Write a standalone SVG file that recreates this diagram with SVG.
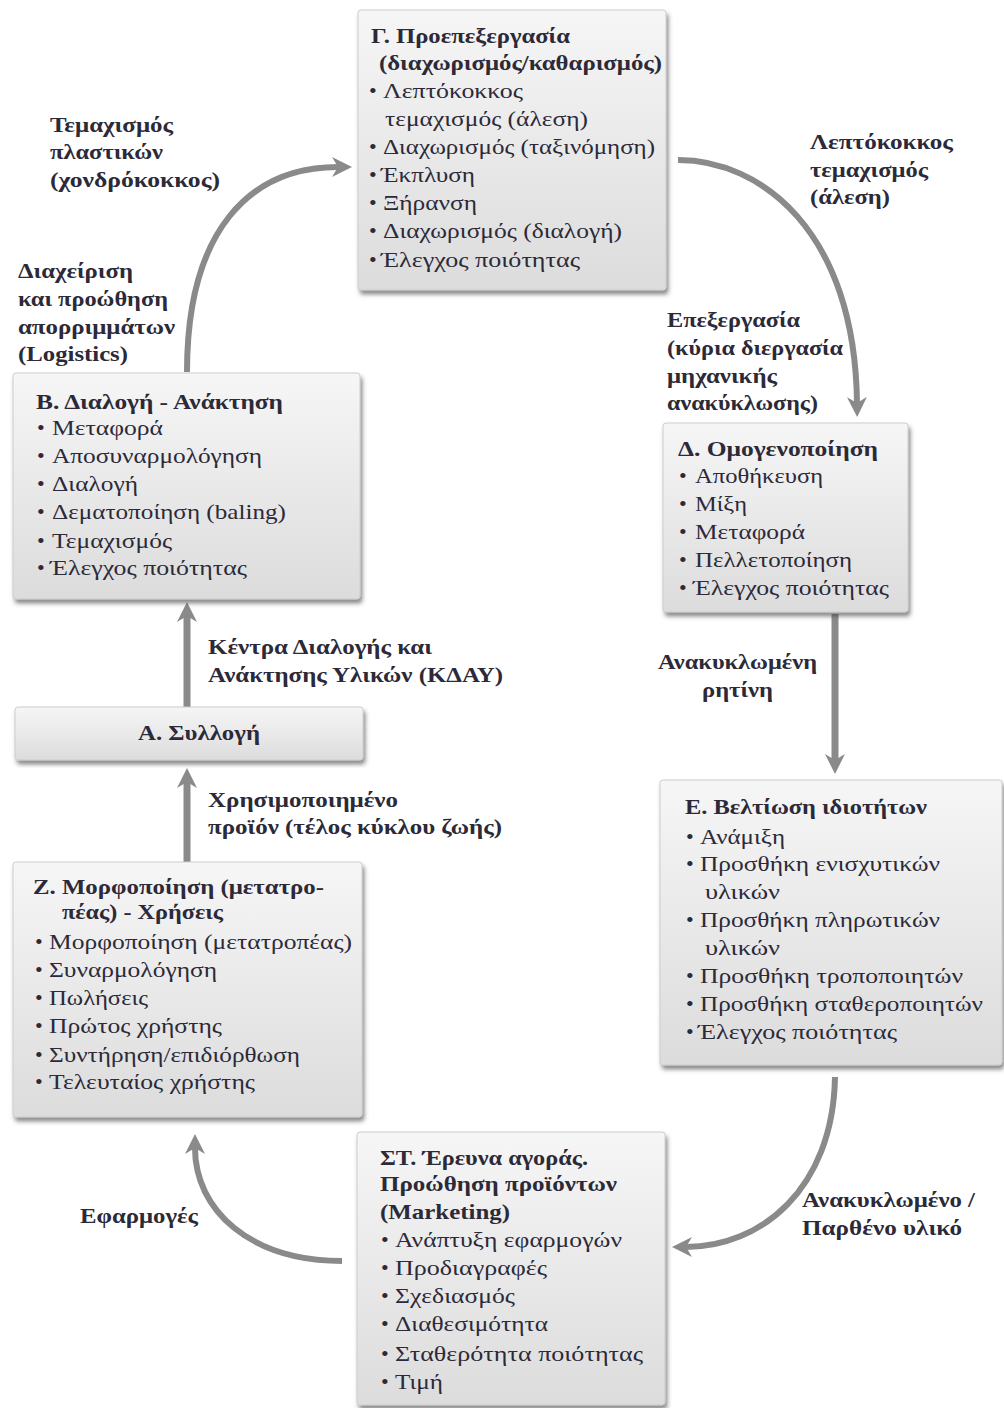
<svg xmlns="http://www.w3.org/2000/svg" width="1004" height="1408" viewBox="0 0 1004 1408">
  <defs>
    <linearGradient id="boxFill" x1="0" y1="0" x2="0" y2="1">
      <stop offset="0" stop-color="#f6f6f6"/>
      <stop offset="1" stop-color="#dcdcdd"/>
    </linearGradient>
    <filter id="shadow" x="-10%" y="-10%" width="120%" height="125%">
      <feDropShadow dx="2" dy="4" stdDeviation="2" flood-color="#404040" flood-opacity="0.6"/>
    </filter>
    <marker id="head" viewBox="0 0 20 20" markerWidth="20" markerHeight="20" refX="6" refY="10" orient="auto" markerUnits="userSpaceOnUse">
      <path d="M0,0 L20,10 L0,20 L6,10 z" fill="#8a8a8a"/>
    </marker>
  </defs>
  <style>
    .box { fill: url(#boxFill); stroke: #cdcdcd; stroke-width: 1; filter: url(#shadow); }
    text { font-family: "Liberation Serif", "Times New Roman", serif; font-size: 22px; fill: #2c2a38; }
    .t, .lbl { font-weight: bold; }
    .link { fill: none; stroke: #8a8a8a; stroke-width: 6; marker-end: url(#head); }
    .straight { stroke-width: 7; }
  </style>

  <rect width="1004" height="1408" fill="#ffffff"/>

  <!-- connectors -->
  <g id="connectors">
    <path class="link" d="M187,372 C187,230 250,167 338,167"/>
    <path class="link" d="M678,160 C760,160 855,230 857,403"/>
    <path class="link straight" d="M835,614 L835,760"/>
    <path class="link" d="M835,1077 C833,1190 760,1247 686,1247"/>
    <path class="link" d="M342,1261 C250,1261 195,1210 195,1148"/>
    <path class="link straight" d="M187,862 L187,782"/>
    <path class="link straight" d="M187,707 L187,616"/>
  </g>

  <!-- connector labels -->
  <g id="labels">
    <text class="lbl" x="50" y="132" textLength="123" lengthAdjust="spacingAndGlyphs">Τεμαχισμός</text>
    <text class="lbl" x="50" y="159" textLength="113" lengthAdjust="spacingAndGlyphs">πλαστικών</text>
    <text class="lbl" x="50" y="187" textLength="170" lengthAdjust="spacingAndGlyphs">(χονδρόκοκκος)</text>

    <text class="lbl" x="18" y="278" textLength="115" lengthAdjust="spacingAndGlyphs">Διαχείριση</text>
    <text class="lbl" x="18" y="306" textLength="150" lengthAdjust="spacingAndGlyphs">και προώθηση</text>
    <text class="lbl" x="18" y="334" textLength="157" lengthAdjust="spacingAndGlyphs">απορριμμάτων</text>
    <text class="lbl" x="18" y="361" textLength="110" lengthAdjust="spacingAndGlyphs">(Logistics)</text>

    <text class="lbl" x="810" y="149" textLength="143" lengthAdjust="spacingAndGlyphs">Λεπτόκοκκος</text>
    <text class="lbl" x="810" y="177" textLength="118" lengthAdjust="spacingAndGlyphs">τεμαχισμός</text>
    <text class="lbl" x="810" y="204" textLength="80" lengthAdjust="spacingAndGlyphs">(άλεση)</text>

    <text class="lbl" x="667" y="327" textLength="133" lengthAdjust="spacingAndGlyphs">Επεξεργασία</text>
    <text class="lbl" x="667" y="355" textLength="176" lengthAdjust="spacingAndGlyphs">(κύρια διεργασία</text>
    <text class="lbl" x="667" y="383" textLength="110" lengthAdjust="spacingAndGlyphs">μηχανικής</text>
    <text class="lbl" x="667" y="410" textLength="151" lengthAdjust="spacingAndGlyphs">ανακύκλωσης)</text>

    <text class="lbl" x="658" y="669" textLength="159" lengthAdjust="spacingAndGlyphs">Ανακυκλωμένη</text>
    <text class="lbl" x="702" y="697" textLength="71" lengthAdjust="spacingAndGlyphs">ρητίνη</text>

    <text class="lbl" x="208" y="654" textLength="224" lengthAdjust="spacingAndGlyphs">Κέντρα Διαλογής και</text>
    <text class="lbl" x="208" y="682" textLength="295" lengthAdjust="spacingAndGlyphs">Ανάκτησης Υλικών (ΚΔΑΥ)</text>

    <text class="lbl" x="208" y="807" textLength="190" lengthAdjust="spacingAndGlyphs">Χρησιμοποιημένο</text>
    <text class="lbl" x="208" y="834" textLength="294" lengthAdjust="spacingAndGlyphs">προϊόν (τέλος κύκλου ζωής)</text>

    <text class="lbl" x="802" y="1207" textLength="173" lengthAdjust="spacingAndGlyphs">Ανακυκλωμένο /</text>
    <text class="lbl" x="802" y="1235" textLength="160" lengthAdjust="spacingAndGlyphs">Παρθένο υλικό</text>

    <text class="lbl" x="80" y="1223" textLength="118" lengthAdjust="spacingAndGlyphs">Εφαρμογές</text>
  </g>

  <!-- Γ. pre-processing -->
  <g id="node-G">
    <rect class="box" x="358" y="10" width="308" height="280" rx="3"/>
    <text class="t" x="371" y="43" textLength="199" lengthAdjust="spacingAndGlyphs">Γ. Προεπεξεργασία</text>
    <text class="t" x="379" y="70" textLength="283" lengthAdjust="spacingAndGlyphs">(διαχωρισμός/καθαρισμός)</text>
    <text x="369" y="98">•</text>
    <text x="383" y="98" textLength="140" lengthAdjust="spacingAndGlyphs">Λεπτόκοκκος</text>
    <text x="385" y="126" textLength="203" lengthAdjust="spacingAndGlyphs">τεμαχισμός (άλεση)</text>
    <text x="369" y="154">•</text>
    <text x="383" y="154" textLength="272" lengthAdjust="spacingAndGlyphs">Διαχωρισμός (ταξινόμηση)</text>
    <text x="369" y="182">•</text>
    <text x="381" y="182" textLength="94" lengthAdjust="spacingAndGlyphs">Έκπλυση</text>
    <text x="369" y="210">•</text>
    <text x="383" y="210" textLength="94" lengthAdjust="spacingAndGlyphs">Ξήρανση</text>
    <text x="369" y="238">•</text>
    <text x="383" y="238" textLength="239" lengthAdjust="spacingAndGlyphs">Διαχωρισμός (διαλογή)</text>
    <text x="369" y="267">•</text>
    <text x="381" y="267" textLength="199" lengthAdjust="spacingAndGlyphs">Έλεγχος ποιότητας</text>
  </g>

  <!-- Β. sorting / recovery -->
  <g id="node-B">
    <rect class="box" x="13" y="373" width="347" height="226" rx="3"/>
    <text class="t" x="36" y="409" textLength="247" lengthAdjust="spacingAndGlyphs">Β. Διαλογή - Ανάκτηση</text>
    <text x="37" y="435">•</text>
    <text x="52" y="435" textLength="111" lengthAdjust="spacingAndGlyphs">Μεταφορά</text>
    <text x="37" y="463">•</text>
    <text x="52" y="463" textLength="210" lengthAdjust="spacingAndGlyphs">Αποσυναρμολόγηση</text>
    <text x="37" y="491">•</text>
    <text x="52" y="491" textLength="86" lengthAdjust="spacingAndGlyphs">Διαλογή</text>
    <text x="37" y="519">•</text>
    <text x="52" y="519" textLength="234" lengthAdjust="spacingAndGlyphs">Δεματοποίηση (baling)</text>
    <text x="37" y="548">•</text>
    <text x="52" y="548" textLength="120" lengthAdjust="spacingAndGlyphs">Τεμαχισμός</text>
    <text x="37" y="575">•</text>
    <text x="50" y="575" textLength="197" lengthAdjust="spacingAndGlyphs">Έλεγχος ποιότητας</text>
  </g>

  <!-- Δ. homogenisation -->
  <g id="node-D">
    <rect class="box" x="663" y="423" width="245" height="189" rx="3"/>
    <text class="t" x="678" y="456" textLength="200" lengthAdjust="spacingAndGlyphs">Δ. Ομογενοποίηση</text>
    <text x="679" y="483">•</text>
    <text x="695" y="483" textLength="128" lengthAdjust="spacingAndGlyphs">Αποθήκευση</text>
    <text x="679" y="511">•</text>
    <text x="695" y="511" textLength="52" lengthAdjust="spacingAndGlyphs">Μίξη</text>
    <text x="679" y="539">•</text>
    <text x="695" y="539" textLength="110" lengthAdjust="spacingAndGlyphs">Μεταφορά</text>
    <text x="679" y="567">•</text>
    <text x="695" y="567" textLength="157" lengthAdjust="spacingAndGlyphs">Πελλετοποίηση</text>
    <text x="679" y="595">•</text>
    <text x="693" y="595" textLength="196" lengthAdjust="spacingAndGlyphs">Έλεγχος ποιότητας</text>
  </g>

  <!-- Α. collection -->
  <g id="node-A">
    <rect class="box" x="15" y="707" width="348" height="53" rx="3"/>
    <text class="t" x="138" y="740" textLength="122" lengthAdjust="spacingAndGlyphs">Α. Συλλογή</text>
  </g>

  <!-- Ζ. conversion / uses -->
  <g id="node-Z">
    <rect class="box" x="13" y="862" width="349" height="255" rx="3"/>
    <text class="t" x="33" y="894" textLength="291" lengthAdjust="spacingAndGlyphs">Ζ. Μορφοποίηση (μετατρο-</text>
    <text class="t" x="62" y="919" textLength="161" lengthAdjust="spacingAndGlyphs">πέας) - Χρήσεις</text>
    <text x="35" y="949">•</text>
    <text x="49" y="949" textLength="303" lengthAdjust="spacingAndGlyphs">Μορφοποίηση (μετατροπέας)</text>
    <text x="35" y="977">•</text>
    <text x="49" y="977" textLength="168" lengthAdjust="spacingAndGlyphs">Συναρμολόγηση</text>
    <text x="35" y="1005">•</text>
    <text x="49" y="1005" textLength="99" lengthAdjust="spacingAndGlyphs">Πωλήσεις</text>
    <text x="35" y="1033">•</text>
    <text x="49" y="1033" textLength="173" lengthAdjust="spacingAndGlyphs">Πρώτος χρήστης</text>
    <text x="35" y="1062">•</text>
    <text x="49" y="1062" textLength="251" lengthAdjust="spacingAndGlyphs">Συντήρηση/επιδιόρθωση</text>
    <text x="35" y="1089">•</text>
    <text x="49" y="1089" textLength="206" lengthAdjust="spacingAndGlyphs">Τελευταίος χρήστης</text>
  </g>

  <!-- Ε. property enhancement -->
  <g id="node-E">
    <rect class="box" x="660" y="780" width="342" height="285" rx="3"/>
    <text class="t" x="685" y="814" textLength="242" lengthAdjust="spacingAndGlyphs">Ε. Βελτίωση ιδιοτήτων</text>
    <text x="686" y="844">•</text>
    <text x="700" y="844" textLength="85" lengthAdjust="spacingAndGlyphs">Ανάμιξη</text>
    <text x="686" y="871">•</text>
    <text x="700" y="871" textLength="240" lengthAdjust="spacingAndGlyphs">Προσθήκη ενισχυτικών</text>
    <text x="705" y="899" textLength="75" lengthAdjust="spacingAndGlyphs">υλικών</text>
    <text x="686" y="927">•</text>
    <text x="700" y="927" textLength="240" lengthAdjust="spacingAndGlyphs">Προσθήκη πληρωτικών</text>
    <text x="705" y="955" textLength="75" lengthAdjust="spacingAndGlyphs">υλικών</text>
    <text x="686" y="983">•</text>
    <text x="700" y="983" textLength="263" lengthAdjust="spacingAndGlyphs">Προσθήκη τροποποιητών</text>
    <text x="686" y="1011">•</text>
    <text x="700" y="1011" textLength="283" lengthAdjust="spacingAndGlyphs">Προσθήκη σταθεροποιητών</text>
    <text x="686" y="1039">•</text>
    <text x="698" y="1039" textLength="199" lengthAdjust="spacingAndGlyphs">Έλεγχος ποιότητας</text>
  </g>

  <!-- ΣΤ. market research / marketing -->
  <g id="node-ST">
    <rect class="box" x="357" y="1132" width="308" height="273" rx="3"/>
    <text class="t" x="380" y="1165" textLength="208" lengthAdjust="spacingAndGlyphs">ΣΤ. Έρευνα αγοράς.</text>
    <text class="t" x="380" y="1191" textLength="237" lengthAdjust="spacingAndGlyphs">Προώθηση προϊόντων</text>
    <text class="t" x="380" y="1219" textLength="130" lengthAdjust="spacingAndGlyphs">(Marketing)</text>
    <text x="381" y="1247">•</text>
    <text x="395" y="1247" textLength="227" lengthAdjust="spacingAndGlyphs">Ανάπτυξη εφαρμογών</text>
    <text x="381" y="1275">•</text>
    <text x="395" y="1275" textLength="152" lengthAdjust="spacingAndGlyphs">Προδιαγραφές</text>
    <text x="381" y="1303">•</text>
    <text x="395" y="1303" textLength="120" lengthAdjust="spacingAndGlyphs">Σχεδιασμός</text>
    <text x="381" y="1331">•</text>
    <text x="395" y="1331" textLength="153" lengthAdjust="spacingAndGlyphs">Διαθεσιμότητα</text>
    <text x="381" y="1361">•</text>
    <text x="395" y="1361" textLength="248" lengthAdjust="spacingAndGlyphs">Σταθερότητα ποιότητας</text>
    <text x="381" y="1389">•</text>
    <text x="395" y="1389" textLength="48" lengthAdjust="spacingAndGlyphs">Τιμή</text>
  </g>
</svg>
